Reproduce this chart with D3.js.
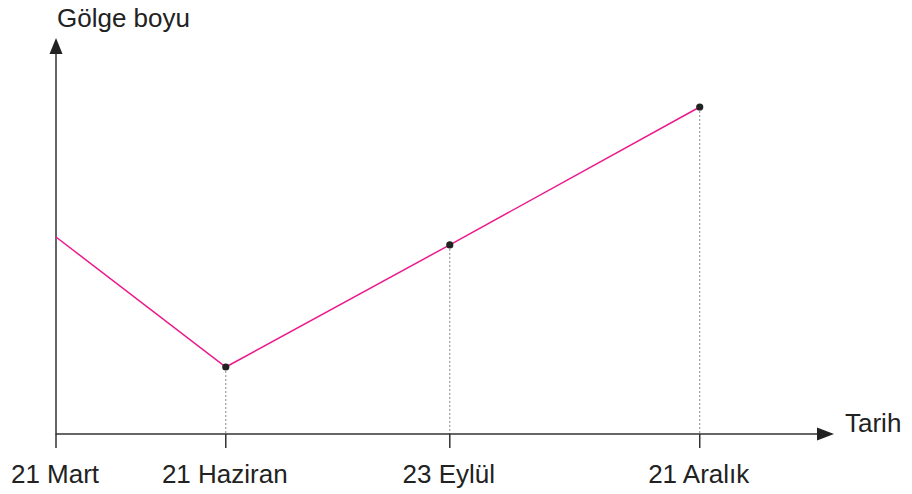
<!DOCTYPE html>
<html>
<head>
<meta charset="utf-8">
<script src="https://cdn.jsdelivr.net/npm/d3@7"></script>
<style>
  body { margin: 0; background: #fff; }
  text { font-family: "Liberation Sans", Arial, sans-serif; fill: #222; }
</style>
</head>
<body>
<div id="chart"></div>
<script>
// dates on the x axis and where they sit along it (arbitrary units)
var dates = ["21 Mart", "21 Haziran", "23 Eylül", "21 Aralık"]
var datePos = [0, 2.16, 5.01, 8.19]
// shadow length at each date (arbitrary units)
var shadow = [5.0, 1.7, 4.8, 8.3]

var width = 912, height = 494

var svg = d3.select("#chart").append("svg")
  .attr("width", width)
  .attr("height", height)

var x = d3.scaleLinear().domain([0, 10]).range([56, 842])
var y = d3.scaleLinear().domain([0, 10]).range([434, 40])

var data = dates.map(function(d, i) { return {label: d, x: datePos[i], y: shadow[i]} })

// dashed drop lines
svg.selectAll(".drop")
  .data(data.slice(1))
  .enter().append("line")
  .attr("x1", d => x(d.x)).attr("x2", d => x(d.x))
  .attr("y1", d => y(d.y)).attr("y2", y(0))
  .attr("stroke", "#888")
  .attr("stroke-width", 1)
  .attr("stroke-dasharray", "2,2")

// axes
var axisColor = "#333"
svg.append("line")
  .attr("x1", x(0)).attr("x2", 826)
  .attr("y1", y(0)).attr("y2", y(0))
  .attr("stroke", axisColor).attr("stroke-width", 1.5)
svg.append("line")
  .attr("x1", x(0)).attr("x2", x(0))
  .attr("y1", y(0) + 0.75).attr("y2", 48)
  .attr("stroke", axisColor).attr("stroke-width", 1.5)

// arrow heads
svg.append("path")
  .attr("d", "M56,38 L62.5,54 L49.5,54 Z")
  .attr("fill", "#222")
svg.append("path")
  .attr("d", "M834,434 L817,427.5 L817,440.5 Z")
  .attr("fill", "#222")

// ticks
svg.selectAll(".tick")
  .data(data)
  .enter().append("line")
  .attr("x1", d => x(d.x)).attr("x2", d => x(d.x))
  .attr("y1", y(0)).attr("y2", y(0) + 14)
  .attr("stroke", axisColor).attr("stroke-width", 1.5)

svg.selectAll(".lbl")
  .data(data)
  .enter().append("text")
  .attr("x", d => x(d.x) - 1)
  .attr("y", 483)
  .attr("text-anchor", "middle")
  .style("font-size", "26px")
  .text(d => d.label)

// line
var line = d3.line().x(d => x(d.x)).y(d => y(d.y))
svg.append("path")
  .datum(data)
  .attr("d", line)
  .attr("fill", "none")
  .attr("stroke", "#ec1a8c")
  .attr("stroke-width", 1.5)

svg.selectAll(".dot")
  .data(data.slice(1))
  .enter().append("circle")
  .attr("cx", d => x(d.x))
  .attr("cy", d => y(d.y))
  .attr("r", 3.6)
  .attr("fill", "#222")

// axis titles
svg.append("text")
  .attr("x", 57).attr("y", 27)
  .style("font-size", "26px")
  .text("Gölge boyu")
svg.append("text")
  .attr("x", 845).attr("y", 432)
  .style("font-size", "26px")
  .text("Tarih")
</script>
</body>
</html>
